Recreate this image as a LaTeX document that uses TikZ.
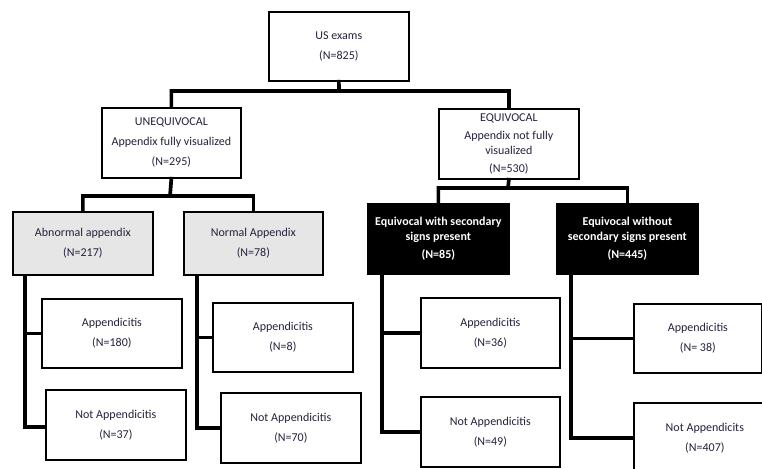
\documentclass[tikz,border=0pt]{standalone}
\usepackage{fontspec}
\setmainfont{Carlito}
\definecolor{txt}{RGB}{35,35,60}
\definecolor{graybox}{RGB}{230,230,230}
\begin{document}
\begin{tikzpicture}[x=1pt,y=-1pt,
  box/.style={draw=black, line width=1.7pt, fill=white, text=txt, align=center,
    font=\fontsize{12}{20}\selectfont, inner sep=0pt, anchor=north west},
  graynode/.style={box, fill=graybox},
  blacknode/.style={box, fill=black, text=white, font=\bfseries\fontsize{12}{14.5}\selectfont},
  conn/.style={line width=3.7pt, line cap=rect, line join=miter}]
\useasboundingbox (0,0) rectangle (762,468);
\clip (0,0) rectangle (762,468);
\fill[white] (0,0) rectangle (762,468);

\node[box, minimum width=140pt, minimum height=69pt] (top) at (268,11) {US exams\\(N=825)};
\node[box, minimum width=139pt, minimum height=70pt] (uneq) at (101,107) {UNEQUIVOCAL\\Appendix fully visualized\\(N=295)};
\node[box, minimum width=140pt, minimum height=70pt, font=\fontsize{12}{14.5}\selectfont] (equ) at (438,108) {EQUIVOCAL\\[4pt]Appendix not fully\\visualized\\[4pt](N=530)};
\node[graynode, minimum width=140pt, minimum height=63pt] (abn) at (12,211) {Abnormal appendix\\(N=217)};
\node[graynode, minimum width=139pt, minimum height=63pt] (norm) at (183,211) {Normal Appendix\\(N=78)};
\node[blacknode, minimum width=141pt, minimum height=70pt] (eqw) at (367,203) {Equivocal with secondary\\signs present\\[4pt](N=85)};
\node[blacknode, minimum width=141pt, minimum height=70pt] (eqwo) at (556,203) {Equivocal without\\secondary signs present\\[4pt](N=445)};
\node[box, minimum width=140pt, minimum height=69pt] (l1) at (41,298) {Appendicitis\\(N=180)};
\node[box, minimum width=140pt, minimum height=70pt] (l2) at (45,389) {Not Appendicitis\\(N=37)};
\node[box, minimum width=140pt, minimum height=69pt] (l3) at (212,302) {Appendicitis\\(N=8)};
\node[box, minimum width=140pt, minimum height=70pt] (l4) at (220,392) {Not Appendicitis\\(N=70)};
\node[box, minimum width=139pt, minimum height=70pt] (l5) at (420,297) {Appendicitis\\(N=36)};
\node[box, minimum width=139pt, minimum height=70pt] (l6) at (420,396) {Not Appendicitis\\(N=49)};
\node[box, minimum width=128pt, minimum height=69pt] (l7) at (633,303) {Appendicitis\\(N= 38)};
\node[box, minimum width=142pt, minimum height=70pt] (l8) at (633,402) {Not Appendicits\\(N=407)};

\coordinate (j1) at (339,91);
\coordinate (j2) at (170,196);
\coordinate (j3) at (508,188);
\draw[conn] (top.south) -- (j1) -| (uneq.north);
\draw[conn] (j1) -| (equ.north);
\draw[conn] (uneq.south) -- (j2) -| (abn.north);
\draw[conn] (j2) -| (norm.north);
\draw[conn] (equ.south) -- (j3) -| (eqw.north);
\draw[conn] (j3) -| (eqwo.north);

\coordinate (s1) at ([xshift=13pt]abn.south west);
\coordinate (s2) at ([xshift=14pt]norm.south west);
\coordinate (s3) at ([xshift=15pt]eqw.south west);
\coordinate (s4) at ([xshift=15pt]eqwo.south west);
\draw[conn] (s1) |- (l1.west);
\draw[conn] (s1) |- ([yshift=-2pt]l2.west);
\draw[conn] (s2) |- (l3.west);
\draw[conn] (s2) |- (l4.west);
\draw[conn] (s3) |- (l5.west);
\draw[conn] (s3) |- (l6.west);
\draw[conn] (s4) |- (l7.west);
\draw[conn] (s4) |- (l8.west);
\end{tikzpicture}
\end{document}
